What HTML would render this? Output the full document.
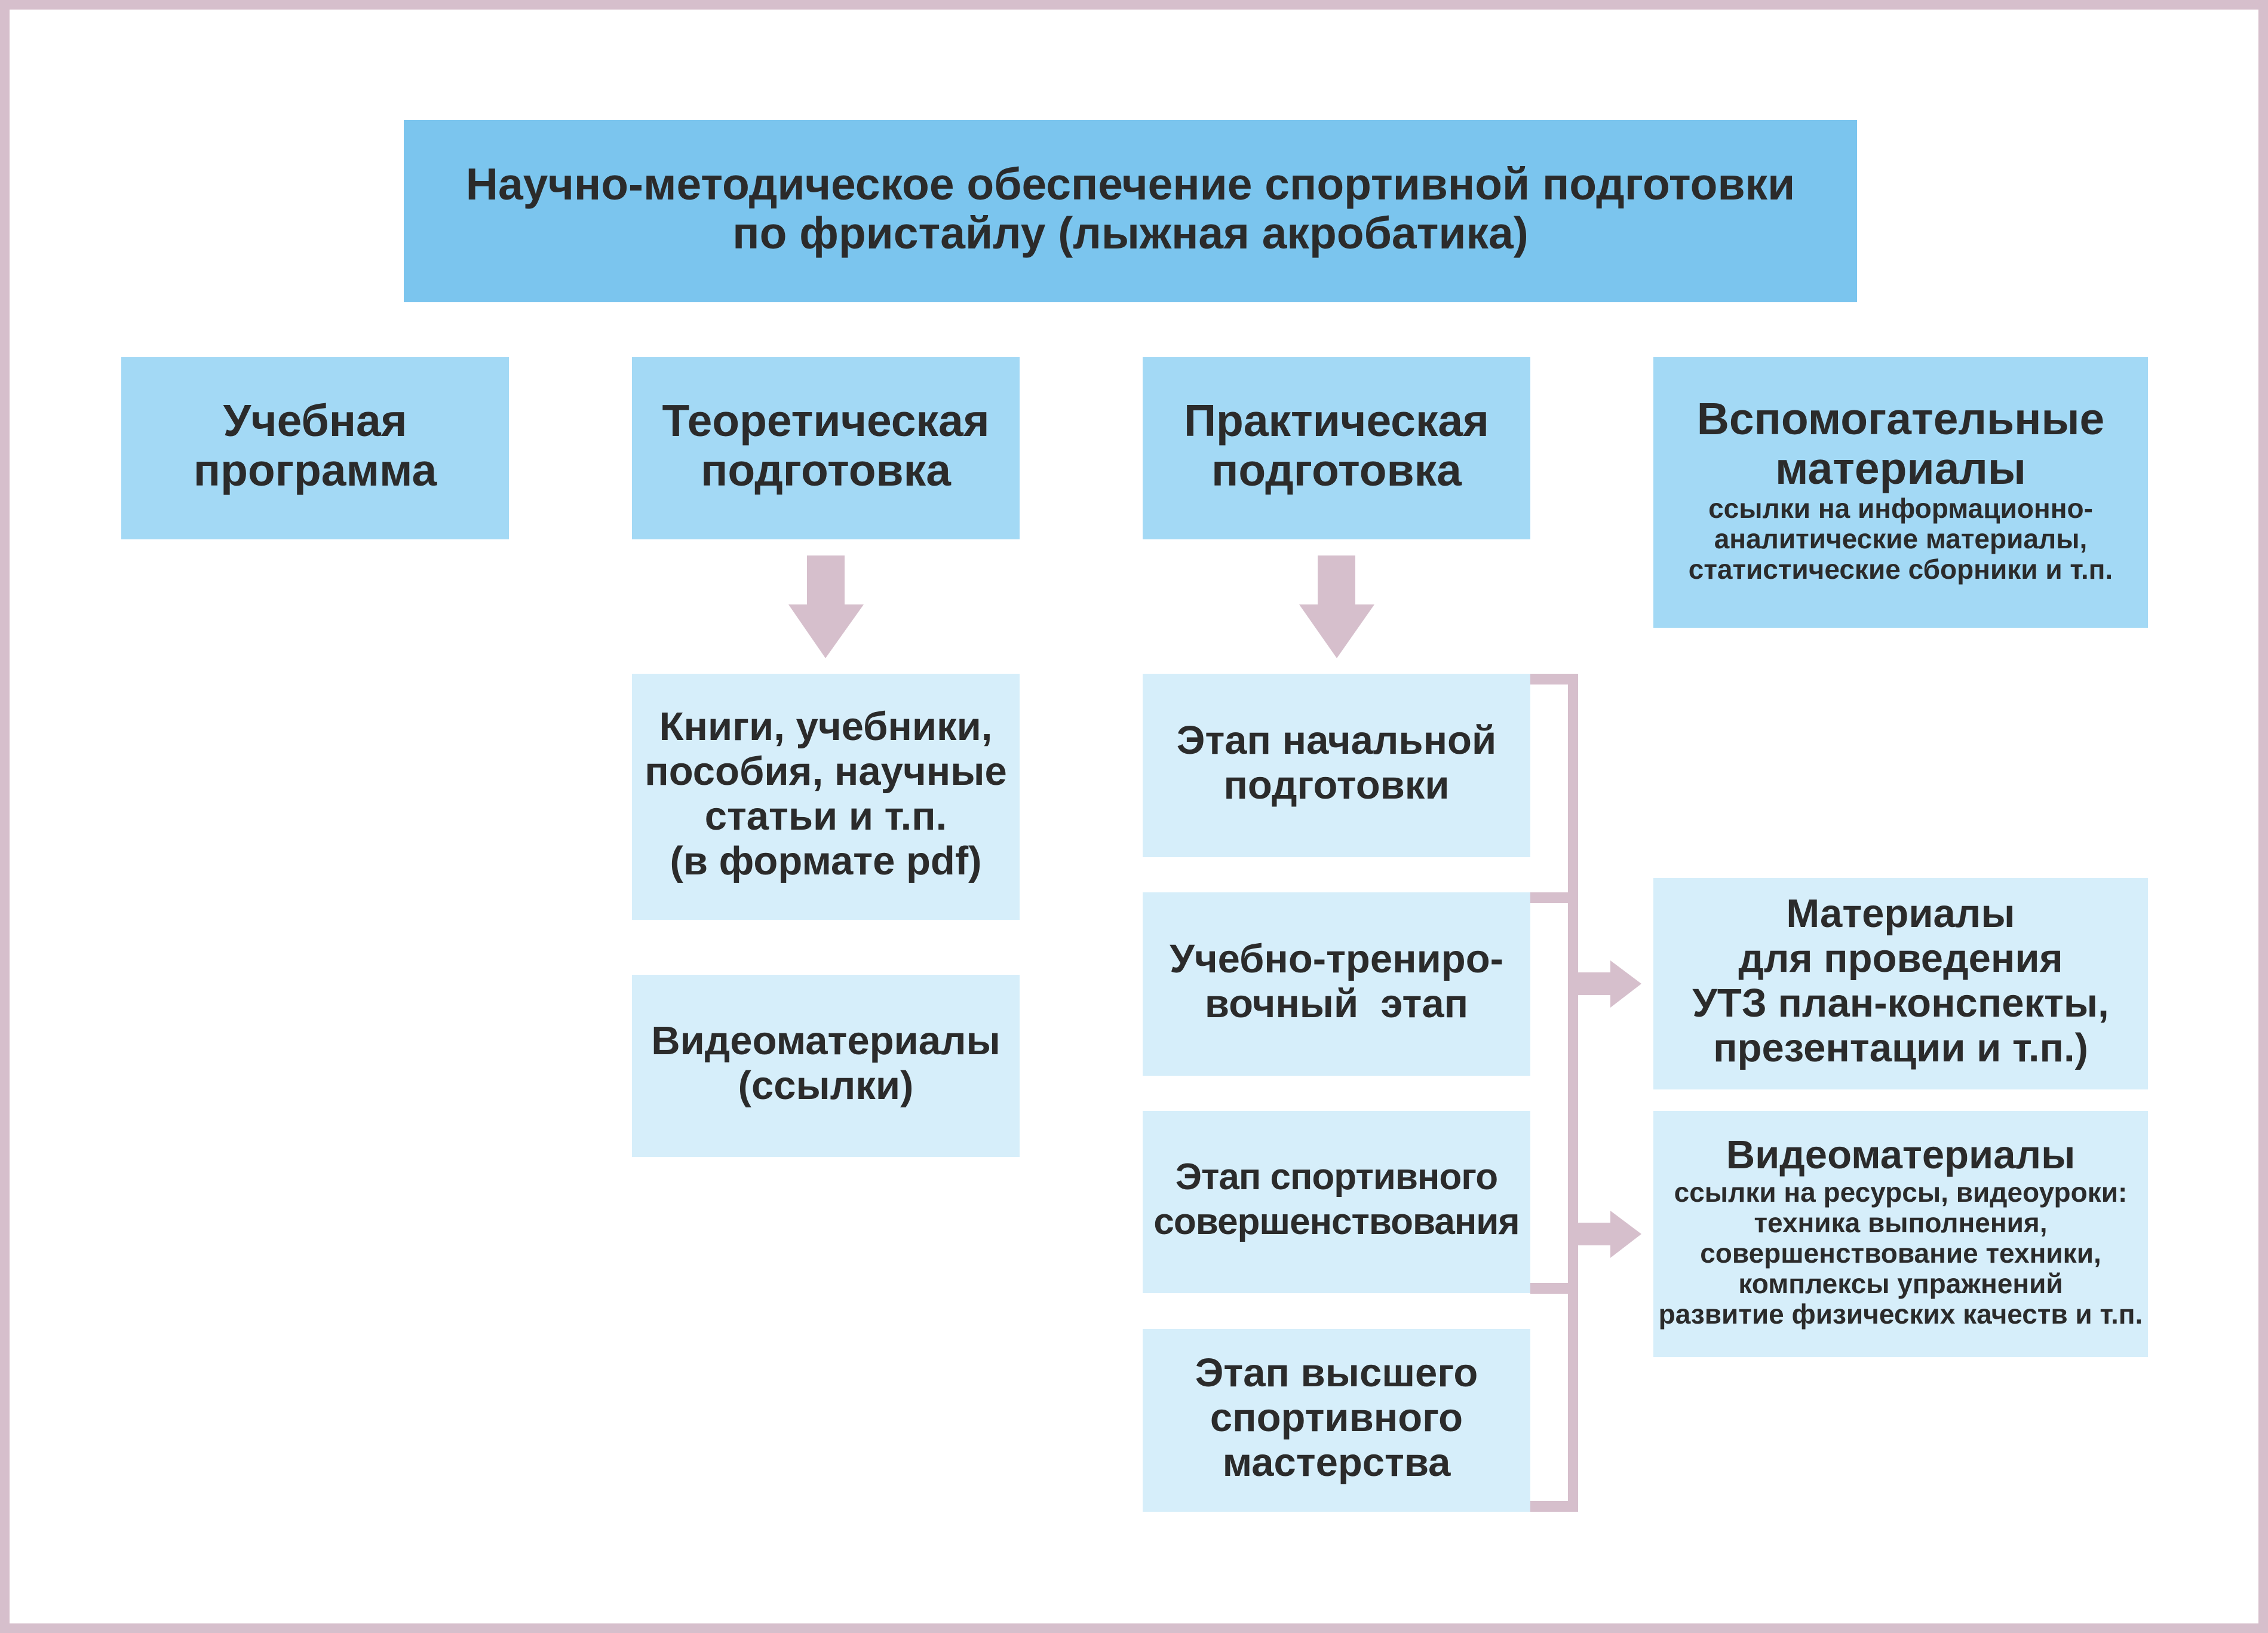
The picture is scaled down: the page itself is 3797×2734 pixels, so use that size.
<!DOCTYPE html>
<html><head><meta charset="utf-8"><style>
*{margin:0;padding:0;box-sizing:border-box}
body{width:3797px;height:2734px;background:#fff;position:relative;overflow:hidden;font-family:"Liberation Sans",Arial,sans-serif;font-weight:bold;color:#2b2b2b}
.frame{position:absolute;left:0;top:0;width:3797px;height:2734px;border:16px solid #d6bfcc}
.b{position:absolute;display:flex;flex-direction:column;align-items:center;justify-content:center;text-align:center;white-space:nowrap;padding-bottom:10px}
.d{background:#a3d9f5}
.l{background:#d6eefa}
.t70{font-size:75px;line-height:83px}
.t64{font-size:67px;line-height:75px}
.s{font-size:46px;line-height:51px}
</style></head><body>
<div class="frame"></div>
<div class="b" style="left:676px;top:201px;width:2433px;height:305px;background:#7bc5ee;font-size:75px;line-height:82px">Научно-методическое обеспечение спортивной подготовки<br>по фристайлу (лыжная акробатика)</div>

<div class="b d t70" style="left:203px;top:598px;width:649px;height:305px">Учебная<br>программа</div>
<div class="b d t70" style="left:1058px;top:598px;width:649px;height:305px">Теоретическая<br>подготовка</div>
<div class="b d t70" style="left:1913px;top:598px;width:649px;height:305px">Практическая<br>подготовка</div>
<div class="b d" style="left:2768px;top:598px;width:828px;height:453px"><div class="t70">Вспомогательные<br>материалы</div><div class="s">ссылки на информационно-<br>аналитические материалы,<br>статистические сборники и т.п.</div></div>

<div class="b l t64" style="left:1058px;top:1128px;width:649px;height:412px">Книги, учебники,<br>пособия, научные<br>статьи и т.п.<br>(в формате pdf)</div>
<div class="b l t64" style="left:1058px;top:1632px;width:649px;height:305px">Видеоматериалы<br>(ссылки)</div>

<div class="b l t64" style="left:1913px;top:1128px;width:649px;height:307px">Этап начальной<br>подготовки</div>
<div class="b l t64" style="left:1913px;top:1494px;width:649px;height:307px">Учебно-трениро-<br>вочный&nbsp; этап</div>
<div class="b l" style="left:1913px;top:1860px;width:649px;height:305px;font-size:62px;line-height:75px;letter-spacing:-1px">Этап спортивного<br>совершенствования</div>
<div class="b l t64" style="left:1913px;top:2225px;width:649px;height:306px">Этап высшего<br>спортивного<br>мастерства</div>

<div class="b l t64" style="left:2768px;top:1470px;width:828px;height:354px">Материалы<br>для проведения<br>УТЗ план-конспекты,<br>презентации и т.п.)</div>
<div class="b l" style="left:2768px;top:1860px;width:828px;height:412px"><div class="t64">Видеоматериалы</div><div class="s">ссылки на ресурсы, видеоуроки:<br>техника выполнения,<br>совершенствование техники,<br>комплексы упражнений<br>развитие физических качеств и т.п.</div></div>

<svg style="position:absolute;left:0;top:0" width="3797" height="2734">
<g fill="#d6bfcc">
<polygon points="1351,930 1414,930 1414,1012 1446,1012 1382,1102 1320,1012 1351,1012"/>
<polygon points="2206,930 2269,930 2269,1012 2301,1012 2238,1102 2175,1012 2206,1012"/>
<rect x="2562" y="1128" width="80" height="18"/>
<rect x="2562" y="1494" width="80" height="18"/>
<rect x="2562" y="2148" width="80" height="18"/>
<rect x="2562" y="2513" width="80" height="18"/>
<rect x="2625" y="1128" width="17" height="1403"/>
<polygon points="2642,1628 2696,1628 2696,1608 2748,1647 2696,1687 2696,1666 2642,1666"/>
<polygon points="2642,2047 2696,2047 2696,2027 2748,2066 2696,2106 2696,2085 2642,2085"/>
</g></svg>
</body></html>
